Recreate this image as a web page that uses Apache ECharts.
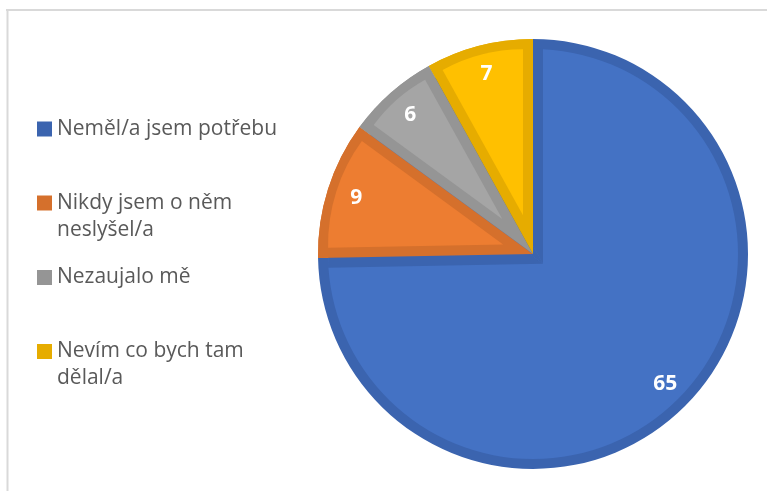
<!DOCTYPE html>
<html>
<head>
<meta charset="utf-8">
<script src="https://cdn.jsdelivr.net/npm/echarts@6/dist/echarts.min.js"></script>
<style>
  html, body { margin: 0; padding: 0; background: #ffffff; }
  #chart { width: 767px; height: 491px; }
</style>
</head>
<body>
<div id="chart"></div>
<script>
// Survey answers: why the respondent did not take part
const categories = ['Neměl/a jsem potřebu', 'Nikdy jsem o něm\nneslyšel/a', 'Nezaujalo mě', 'Nevím co bych tam\ndělal/a'];
const values = [65, 9, 6, 7];
const fillColors = ['#4472C4', '#ED7D31', '#A5A5A5', '#FFC000'];
const edgeColors = ['#3B64AF', '#D5702C', '#959595', '#E6AC00'];

// Pie placement and the width of each slice's inner darker rim
const CX = 533, CY = 254, R = 215, RIM = 10;
const FONT = '"Open Sans", "Noto Sans", sans-serif';
const CLEAR = 'rgba(0,0,0,0)';

const total = values.reduce((a, b) => a + b, 0);
const rad = Math.PI / 180;

// Bisector (math angle, degrees) and sweep of every slice, starting at 12 o'clock, clockwise
let cursor = 90;
const slices = values.map(v => {
  const sweep = 360 * v / total;
  const start = cursor;
  cursor -= sweep;
  return { sweep, mid: start - sweep / 2 };
});

function shift(dist, angleDeg) {
  return [CX + dist * Math.cos(angleDeg * rad), CY - dist * Math.sin(angleDeg * rad)];
}

function pieData(colorOf) {
  return values.map((v, j) => ({ name: categories[j], value: v, itemStyle: { color: colorOf(j) } }));
}

function pieSeries(center, radius, colorOf, extra) {
  return Object.assign({
    type: 'pie',
    center: center,
    radius: radius,
    startAngle: 90,
    clockwise: true,
    silent: true,
    animation: false,
    label: { show: false },
    labelLine: { show: false },
    emphasis: { disabled: true },
    itemStyle: { borderWidth: 0 },
    data: pieData(colorOf)
  }, extra || {});
}

const series = [];
// Darker base disc: becomes the rim of every slice
series.push(pieSeries([CX, CY], [0, R], j => edgeColors[j]));
// Lighter body of the large slice
series.push(pieSeries([CX, CY], [0, R - RIM], j => (j === 0 ? fillColors[0] : CLEAR)));
// Rim of the large slice along its two straight edges (wedge pushed away from the small slices)
const bigShift = RIM / Math.sin(slices[0].sweep / 2 * rad);
series.push(pieSeries(shift(bigShift, slices[0].mid), [0, R], j => (j === 0 ? CLEAR : edgeColors[0])));
// Small slices, darker rim colour
series.push(pieSeries([CX, CY], [0, R], j => (j === 0 ? CLEAR : edgeColors[j])));
// Lighter bodies of the small slices, inset from their straight edges
for (let i = 1; i < values.length; i++) {
  const half = slices[i].sweep / 2 * rad;
  const s = RIM / Math.sin(half);
  const reach = -s * Math.cos(half) + Math.sqrt((R - RIM) * (R - RIM) - RIM * RIM);
  series.push(pieSeries(shift(s, slices[i].mid), [0, reach], j => (j === i ? fillColors[i] : CLEAR)));
}
// Value labels
series.push(pieSeries([CX, CY], [150, R], () => CLEAR, {
  label: {
    show: true,
    position: 'inside',
    formatter: '{c}',
    color: '#ffffff',
    fontFamily: FONT,
    fontSize: 21,
    fontWeight: 'bold'
  }
}));

// One legend block per answer; a leading blank line keeps the icon level with the first text line
const legendTops = [115.5, 162.5, 264, 311];
const legend = categories.map((name, i) => {
  const twoLines = name.indexOf('\n') >= 0;
  return {
    orient: 'vertical',
    left: 37,
    top: legendTops[i],
    padding: 0,
    itemWidth: 15,
    itemHeight: 15,
    itemGap: 0,
    icon: 'rect',
    selectedMode: false,
    data: [{ name: name, itemStyle: { color: edgeColors[i] } }],
    formatter: n => (twoLines ? '\n' + n : n),
    textStyle: {
      fontFamily: FONT,
      fontSize: 21,
      color: '#595959',
      lineHeight: 27
    }
  };
});

const chart = echarts.init(document.getElementById('chart'), null, { renderer: 'canvas' });
chart.setOption({
  backgroundColor: '#ffffff',
  animation: false,
  legend: legend,
  series: series,
  graphic: [
    { type: 'line', shape: { x1: 6, y1: 10, x2: 767, y2: 10 }, style: { stroke: '#d9d9d9', lineWidth: 2 }, silent: true },
    { type: 'line', shape: { x1: 7.5, y1: 9, x2: 7.5, y2: 491 }, style: { stroke: '#d9d9d9', lineWidth: 2 }, silent: true }
  ]
});
</script>
</body>
</html>
